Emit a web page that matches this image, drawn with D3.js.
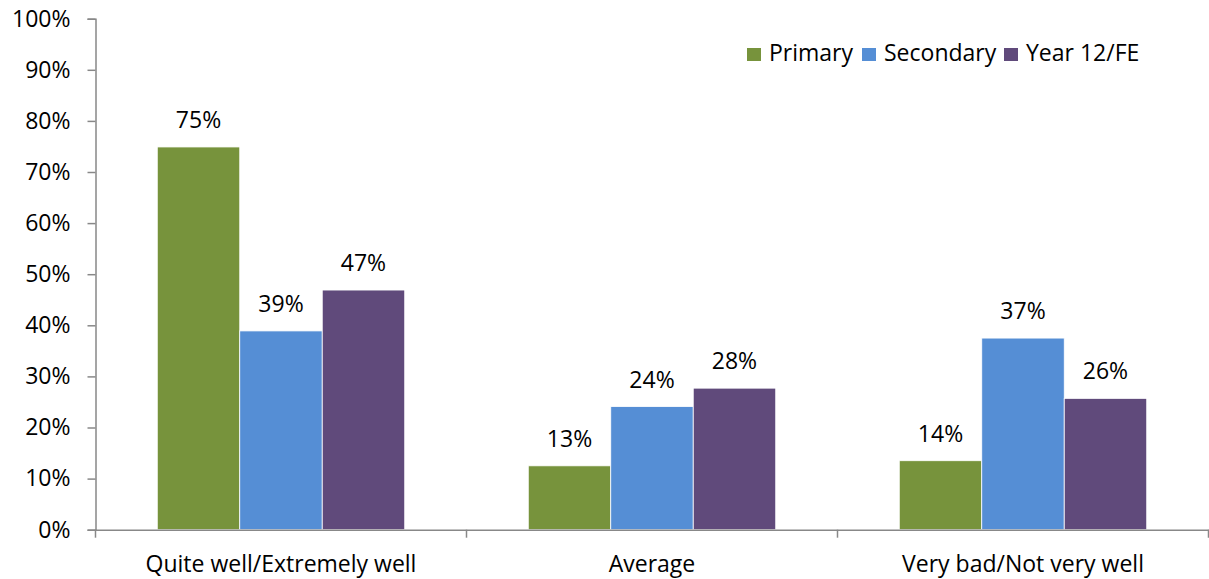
<!DOCTYPE html>
<html><head><meta charset="utf-8">
<script src="https://cdn.jsdelivr.net/npm/d3@7"></script>
<style>body{margin:0;background:#fff}svg{display:block}text{font-family:"Open Sans",sans-serif;fill:#000}</style>
</head><body><svg id="c" width="1209" height="579"></svg>
<script>
const categories = ["Quite well/Extremely well", "Average", "Very bad/Not very well"];
const seriesNames = ["Primary", "Secondary", "Year 12/FE"];
const primary = [74.9, 12.5, 13.5];
const secondary = [38.9, 24.1, 37.5];
const year12 = [46.9, 27.7, 25.7];
const labels = [["75%","39%","47%"],["13%","24%","28%"],["14%","37%","26%"]];
const yTicks = [0,10,20,30,40,50,60,70,80,90,100];
const colors = ["#77933C", "#558ED5", "#604A7B"];

const series = [primary, secondary, year12];
const FS = 23;
const svg = d3.select("#c");
const x0 = 95.5, x1 = 1208.5, yTop = 18.7, yBot = 529.7;
const x = d3.scaleBand().domain(categories).range([x0, x1]).paddingInner(0).paddingOuter(0);
const outer = x.bandwidth() * 0.1665;
const xs = d3.scaleBand().domain(seriesNames).range([outer, x.bandwidth() - outer]).paddingInner(0).paddingOuter(0);
const y = d3.scaleLinear().domain([0,100]).range([yBot, yTop]);

// y axis
const ya = svg.append("g").attr("transform", `translate(${x0},0)`)
  .call(d3.axisLeft(y).tickValues(yTicks).tickSize(8).tickPadding(17).tickFormat(d => d + "%"));
ya.select(".domain").attr("stroke", "#888").attr("stroke-width", 1.5);
ya.selectAll(".tick line").attr("stroke", "#888").attr("stroke-width", 1.5);
ya.selectAll(".tick text").attr("font-size", FS).attr("font-family", "Open Sans").attr("fill", "#000");

// bars
categories.forEach((c, ci) => {
  series.forEach((s, si) => {
    const bx = x(c) + xs(seriesNames[si]);
    svg.append("rect").attr("x", bx).attr("y", y(s[ci])).attr("width", xs.bandwidth())
      .attr("height", yBot - y(s[ci])).attr("fill", colors[si]).attr("stroke", "#fff").attr("stroke-width", 0.8);
    svg.append("text").attr("x", bx + xs.bandwidth()/2).attr("y", y(s[ci]) - 19)
      .attr("text-anchor", "middle").attr("font-size", FS).text(labels[ci][si]);
  });
});

// x axis
const xa = svg.append("g").attr("transform", `translate(0,${yBot})`)
  .call(d3.axisBottom(x).tickSize(0).tickPadding(26));
xa.select(".domain").attr("stroke", "#888").attr("stroke-width", 1.5);
xa.selectAll(".tick text").attr("font-size", FS).attr("font-family", "Open Sans").attr("fill", "#000");
const bounds = [x0, ...categories.map(c => x(c) + x.bandwidth())];
svg.append("g").selectAll("line").data(bounds).join("line")
  .attr("x1", d => d).attr("x2", d => d).attr("y1", yBot).attr("y2", yBot + 8)
  .attr("stroke", "#888").attr("stroke-width", 1.5);

// legend
const legSq = [747, 862, 1004];
const lg = svg.append("g");
seriesNames.forEach((n, i) => {
  lg.append("rect").attr("x", legSq[i]).attr("y", 48).attr("width", 14).attr("height", 13).attr("fill", colors[i]);
  lg.append("text").attr("x", legSq[i] + 22).attr("y", 61).attr("font-size", FS).text(n);
});
</script></body></html>
